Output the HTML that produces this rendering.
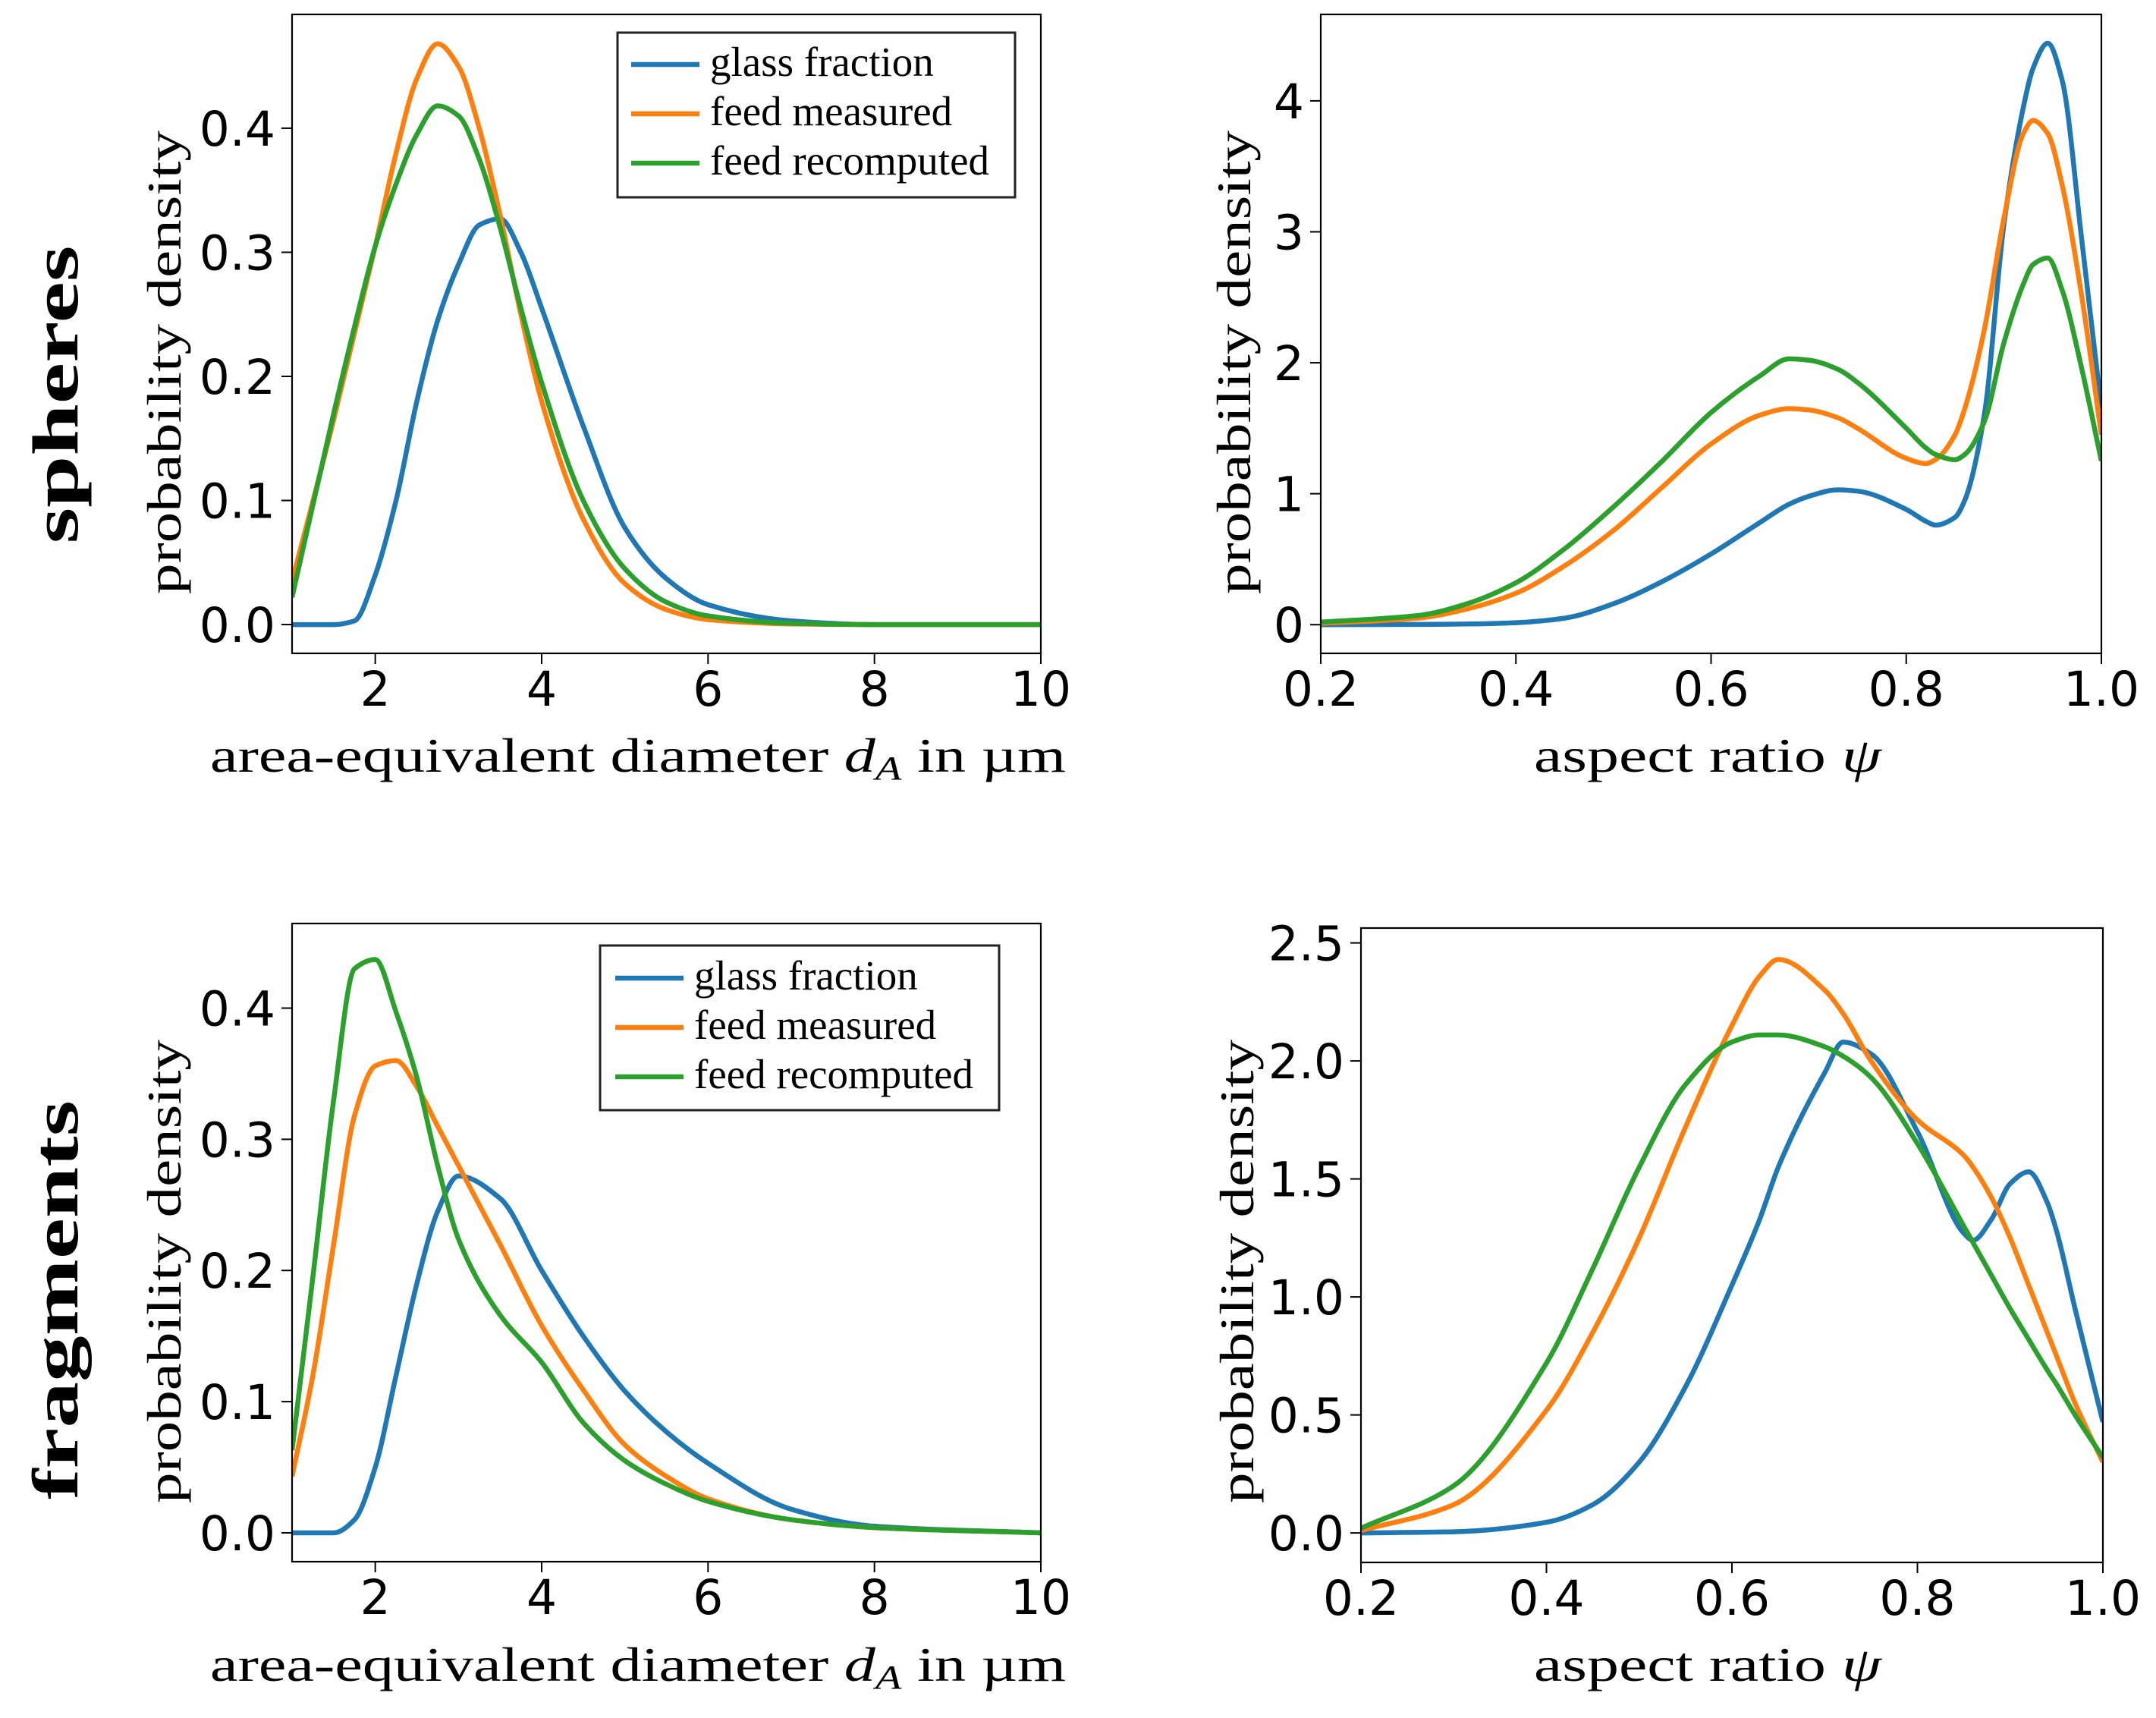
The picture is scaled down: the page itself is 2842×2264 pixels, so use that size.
<!DOCTYPE html>
<html><head><meta charset="utf-8"><style>
html,body{margin:0;padding:0;background:#fff;}
svg{display:block;}
.tick{font-family:"DejaVu Sans","Liberation Sans",sans-serif;font-size:63px;fill:#000;}
.lab{font-family:"Liberation Serif",serif;font-size:64px;fill:#000;}
.leg{font-family:"Liberation Serif",serif;font-size:55px;fill:#000;}
.row{font-family:"Liberation Serif",serif;font-size:86px;font-weight:bold;fill:#000;}
</style></head><body>
<svg id="fig" xmlns="http://www.w3.org/2000/svg" width="2842" height="2264" viewBox="0 0 2842 2264">
<rect width="2842" height="2264" fill="#fff"/>
<text class="row" transform="translate(102,520) rotate(-90)" text-anchor="middle" textLength="393" lengthAdjust="spacingAndGlyphs">spheres</text>
<text class="row" transform="translate(102,1713) rotate(-90)" text-anchor="middle" textLength="526" lengthAdjust="spacingAndGlyphs">fragments</text>
</svg>
<script>
// ---- data: spheres, diameter ----
const sdX=[1,1.5,1.75,2,2.25,2.5,2.75,3,3.25,3.5,3.75,4,4.5,5,5.5,6,7,8,10];
const sdGlass=[0,0,.003,.04,.10,.18,.245,.29,.322,.327,.30,.255,.16,.078,.037,.016,.003,0,0];
const sdMeas=[.035,.165,.235,.305,.38,.44,.468,.45,.40,.33,.25,.18,.085,.033,.012,.004,.0005,0,0];
const sdRec=[.022,.17,.24,.305,.355,.395,.418,.41,.375,.32,.255,.195,.10,.045,.018,.007,.001,0,0];
// ---- data: spheres, aspect ratio ----
const saX=[.2,.3,.35,.4,.45,.5,.55,.6,.65,.68,.7,.73,.75,.8,.82,.83,.85,.86,.88,.9,.92,.93,.945,.96,.98,1.0];
const saGlass=[0,.002,.005,.015,.05,.16,.33,.54,.78,.92,.98,1.03,1.02,.88,.79,.76,.82,.95,1.6,3.05,3.95,4.25,4.44,4.15,2.93,1.65];
const saMeas=[.01,.05,.12,.24,.45,.72,1.05,1.38,1.6,1.65,1.64,1.58,1.5,1.27,1.23,1.26,1.45,1.65,2.25,3.1,3.75,3.85,3.75,3.35,2.5,1.45];
const saRec=[.02,.07,.16,.32,.58,.9,1.25,1.62,1.9,2.03,2.02,1.95,1.85,1.5,1.35,1.3,1.26,1.3,1.55,2.15,2.6,2.75,2.8,2.55,1.95,1.25];
// ---- data: fragments, diameter ----
const fdX=[1,1.25,1.5,1.75,2,2.25,2.5,2.75,3,3.5,4,4.5,5,5.5,6,7,8,10];
const fdGlass=[0,0,0,.01,.05,.12,.19,.245,.272,.255,.20,.15,.108,.077,.053,.018,.005,0];
const fdMeas=[.043,.12,.22,.318,.356,.36,.34,.31,.28,.22,.158,.109,.067,.043,.026,.01,.004,0];
const fdRec=[.063,.195,.33,.43,.437,.397,.347,.28,.224,.166,.13,.084,.055,.037,.024,.01,.004,0];
// ---- data: fragments, aspect ratio ----
const faX=[.2,.3,.4,.45,.5,.55,.6,.63,.65,.7,.72,.75,.8,.85,.86,.88,.9,.92,.94,.95,.97,1.0];
const faGlass=[0,.005,.045,.12,.3,.62,1.05,1.33,1.55,1.95,2.08,2.03,1.7,1.27,1.24,1.33,1.48,1.53,1.4,1.28,.95,.47];
const faMeas=[.01,.12,.52,.85,1.25,1.72,2.15,2.36,2.43,2.3,2.2,2.0,1.75,1.6,1.55,1.42,1.25,1.05,.85,.75,.55,.3];
const faRec=[.02,.2,.72,1.12,1.55,1.9,2.08,2.11,2.11,2.06,2.02,1.93,1.65,1.3,1.23,1.09,.95,.82,.69,.63,.5,.32];
// ticks
const dTicks=[2,4,6,8,10];
const aTicks=[0.2,0.4,0.6,0.8,1.0];
const aTickLabels=["0.2","0.4","0.6","0.8","1.0"];
const sdYTicks=[0,0.1,0.2,0.3,0.4];
const saYTicks=[0,1,2,3,4];
const fdYTicks=[0,0.1,0.2,0.3,0.4];
const faYTicks=[0,0.5,1.0,1.5,2.0,2.5];
const seriesNames=["glass fraction","feed measured","feed recomputed"];
const colors=["#1f77b4","#ff7f0e","#2ca02c"];

const NS="http://www.w3.org/2000/svg";
const fig=document.getElementById('fig');
function mk(tag,attrs,parent){const e=document.createElementNS(NS,tag);for(const k in attrs)e.setAttribute(k,attrs[k]);(parent||fig).appendChild(e);return e;}

// monotone cubic (Fritsch-Carlson) path
function monoPath(pts){
  const n=pts.length;const dx=[],m=[],t=new Array(n);
  for(let i=0;i<n-1;i++){dx.push(pts[i+1][0]-pts[i][0]);m.push((pts[i+1][1]-pts[i][1])/dx[i]);}
  t[0]=m[0];t[n-1]=m[n-2];
  for(let i=1;i<n-1;i++){
    if(m[i-1]*m[i]<=0)t[i]=0;
    else{const w1=2*dx[i]+dx[i-1],w2=dx[i]+2*dx[i-1];t[i]=(w1+w2)/(w1/m[i-1]+w2/m[i]);}
  }
  let d='M'+pts[0][0].toFixed(1)+','+pts[0][1].toFixed(1);
  for(let i=0;i<n-1;i++){
    const h=dx[i]/3;
    d+=' C'+(pts[i][0]+h).toFixed(1)+','+(pts[i][1]+t[i]*h).toFixed(1)+' '+(pts[i+1][0]-h).toFixed(1)+','+(pts[i+1][1]-t[i+1]*h).toFixed(1)+' '+pts[i+1][0].toFixed(1)+','+pts[i+1][1].toFixed(1);
  }
  return d;
}

function panel(id,box,xr,yr,xs,ys,xTicks,xLabs,yTicks,yLabs,xLabel,xLabelBox,yLabelBox,legend){
  const g=mk('g',{});
  
  
  const sx=v=>box.l+(v-xr[0])/(xr[1]-xr[0])*(box.r-box.l);
  const sy=v=>box.b-(v-yr[0])/(yr[1]-yr[0])*(box.b-box.t);
  const cp=mk('clipPath',{id:'clip-'+id},g);
  mk('rect',{x:box.l,y:box.t,width:box.r-box.l,height:box.b-box.t},cp);
  ys.forEach((arr,si)=>{
    const pts=xs.map((x,i)=>[sx(x),sy(arr[i])]);
    const p=mk('path',{d:monoPath(pts),fill:'none',stroke:colors[si],'stroke-width':6.5,'stroke-linejoin':'round','clip-path':'url(#clip-'+id+')'},g);
    
    
  });
  const fr=mk('rect',{x:box.l,y:box.t,width:box.r-box.l,height:box.b-box.t,fill:'none',stroke:'#000','stroke-width':2.2},g);
  
  
  xTicks.forEach((v,i)=>{
    const x=sx(v);
    mk('line',{x1:x,x2:x,y1:box.b,y2:box.b+14,stroke:'#000','stroke-width':2},g);
    const t=mk('text',{x:x,y:box.b+69,'text-anchor':'middle',class:'tick'},g);
    
    
    t.textContent=xLabs[i];
  });
  yTicks.forEach((v,i)=>{
    const y=sy(v);
    mk('line',{x1:box.l-14,x2:box.l,y1:y,y2:y,stroke:'#000','stroke-width':2},g);
    const t=mk('text',{x:box.l-22,y:y+23,'text-anchor':'end',class:'tick'},g);
    
    
    t.textContent=yLabs[i];
  });
  const xl=mk('text',{x:xLabelBox[0],y:xLabelBox[1],class:'lab',textLength:xLabelBox[2],lengthAdjust:'spacingAndGlyphs'},g);
  
  
  xl.innerHTML=xLabel;
  const yl=mk('text',{transform:'translate('+yLabelBox[0]+','+yLabelBox[1]+') rotate(-90)',class:'lab',textLength:yLabelBox[2],lengthAdjust:'spacingAndGlyphs'},g);
  
  
  yl.textContent='probability density';
  if(legend){
    const lg=mk('g',{},g);
    
    
    mk('rect',{x:legend.x,y:legend.y,width:legend.w,height:legend.h,fill:'#fff',stroke:'#222','stroke-width':3},lg);
    seriesNames.forEach((n,i)=>{
      const cy=legend.y+legend.r0+i*65;
      mk('line',{x1:legend.lx,x2:legend.lx+90,y1:cy,y2:cy,stroke:colors[i],'stroke-width':6.5},lg);
      const t=mk('text',{x:legend.tx,y:cy+15,class:'leg'},lg);
      
      
      t.textContent=n;
    });
  }
}
const dLabs=dTicks.map(String);
const dTitle='area-equivalent diameter <tspan font-style="italic">d</tspan><tspan font-style="italic" font-size="44" dy="10">A</tspan><tspan dy="-10"> in µm</tspan>';
const aTitle='aspect ratio <tspan font-style="italic">ψ</tspan>';
panel('spheres-diameter',{l:385,r:1372,t:19,b:861},[1,10],[-0.0232,0.4917],sdX,[sdGlass,sdMeas,sdRec],
  dTicks,dLabs,sdYTicks,sdYTicks.map(v=>v.toFixed(1)),dTitle,[277,1017,1128],[238,783,611],
  {x:814,y:43,w:524,h:217,r0:42,lx:832,tx:936});
panel('spheres-aspect',{l:1741,r:2770,t:19,b:861},[0.2,1.0],[-0.219,4.66],saX,[saGlass,saMeas,saRec],
  aTicks,aTickLabels,saYTicks,saYTicks.map(String),aTitle,[2022,1017,458],[1648,783,611],null);
panel('fragments-diameter',{l:385,r:1372,t:1217,b:2058},[1,10],[-0.0220,0.4645],fdX,[fdGlass,fdMeas,fdRec],
  dTicks,dLabs,fdYTicks,fdYTicks.map(v=>v.toFixed(1)),dTitle,[277,2215,1128],[238,1981,611],
  {x:791,y:1246,w:526,h:217,r0:43,lx:811,tx:915});
panel('fragments-aspect',{l:1794,r:2772,t:1223,b:2059},[0.2,1.0],[-0.125,2.563],faX,[faGlass,faMeas,faRec],
  aTicks,aTickLabels,faYTicks,faYTicks.map(v=>v.toFixed(1)),aTitle,[2022,2215,458],[1652,1981,611],null);
</script>
</body></html>
